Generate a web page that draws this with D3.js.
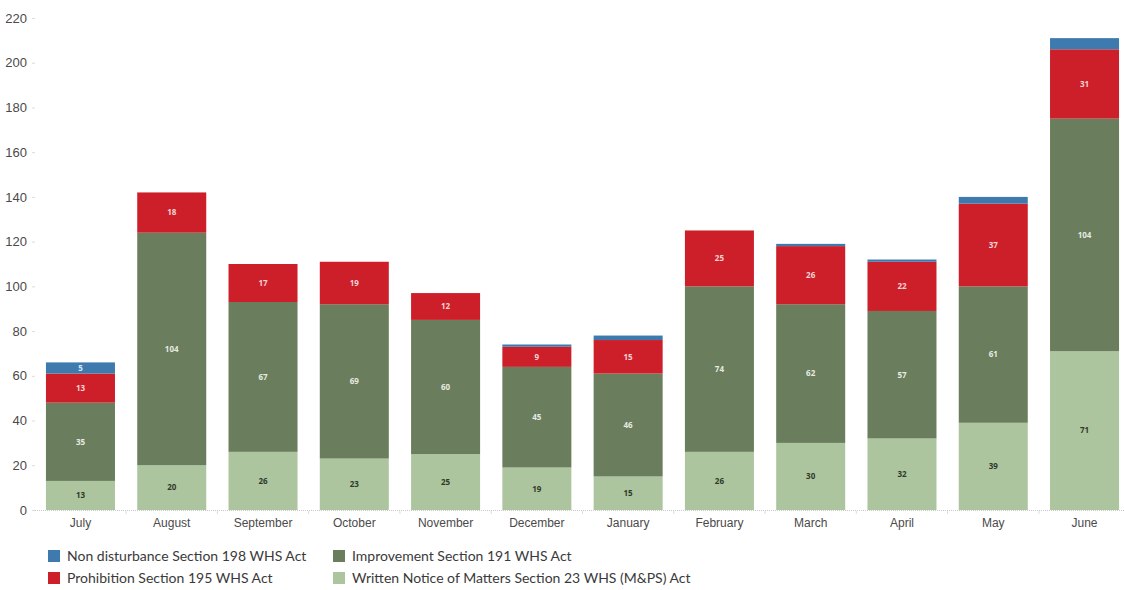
<!DOCTYPE html>
<html>
<head>
<meta charset="utf-8">
<script src="https://cdn.jsdelivr.net/npm/d3@7"></script>
<style>
  html, body { margin: 0; padding: 0; background: #fff; }
  svg { display: block; font-family: "Lato", "Open Sans", sans-serif; }
</style>
</head>
<body>
<svg id="chart" width="1124" height="590"></svg>
<script>
// Monthly notices issued, by notice type
const months = ["July", "August", "September", "October", "November", "December",
                "January", "February", "March", "April", "May", "June"];
const writtenNotice = [13, 20, 26, 23, 25, 19, 15, 26, 30, 32, 39, 71];
const improvement   = [35, 104, 67, 69, 60, 45, 46, 74, 62, 57, 61, 104];
const prohibition   = [13, 18, 17, 19, 12, 9, 15, 25, 26, 22, 37, 31];
const nonDisturb    = [5, 0, 0, 0, 0, 1, 2, 0, 1, 1, 3, 5];
// value labels shown for the non-disturbance segment
const nonDisturbLabelShown = [true, false, false, false, false, false, false, false, false, false, false, false];
const yTicks = [0, 20, 40, 60, 80, 100, 120, 140, 160, 180, 200, 220];

const seriesDefs = [
  { key: "written", name: "Written Notice of Matters Section 23 WHS (M&PS) Act", values: writtenNotice, color: "#acc59e", text: "#2f3a2a" },
  { key: "improvement", name: "Improvement Section 191 WHS Act", values: improvement, color: "#6a7d5c", text: "#e6ebe2" },
  { key: "prohibition", name: "Prohibition Section 195 WHS Act", values: prohibition, color: "#cd1f2a", text: "#f7d3d5" },
  { key: "nondisturb", name: "Non disturbance Section 198 WHS Act", values: nonDisturb, color: "#3e7aae", text: "#dce8f3" }
];

const rows = months.map((m, i) => {
  const r = { month: m };
  seriesDefs.forEach(s => r[s.key] = s.values[i]);
  return r;
});

const stacked = d3.stack().keys(seriesDefs.map(s => s.key))(rows);

const svg = d3.select("#chart");

const x = d3.scaleBand()
  .domain(months)
  .range([35, 1130])
  .paddingInner(0.244)
  .paddingOuter(0.12);

const y = d3.scaleLinear().domain([0, 220]).range([510, 18]);

// y axis
const yAxis = svg.append("g")
  .attr("transform", "translate(35,0)")
  .call(d3.axisLeft(y).tickValues(yTicks).tickSize(3).tickPadding(5));
yAxis.select(".domain").remove();
yAxis.selectAll(".tick line").attr("stroke", "#dcdcdc");
yAxis.selectAll(".tick text").attr("fill", "#4a4a4a").style("font-size", "13px");

// bars
const layers = svg.append("g").selectAll("g")
  .data(stacked)
  .join("g")
  .attr("fill", (d, i) => seriesDefs[i].color);

layers.selectAll("rect")
  .data(d => d)
  .join("rect")
  .attr("x", d => x(d.data.month))
  .attr("width", x.bandwidth())
  .attr("y", d => y(d[1]))
  .attr("height", d => Math.max(0, y(d[0]) - y(d[1])));

// x axis
const xAxis = svg.append("g")
  .attr("transform", "translate(0,510)")
  .call(d3.axisBottom(x).tickSize(0).tickPadding(8));
xAxis.select(".domain").remove();
xAxis.selectAll(".tick text").attr("fill", "#4a4a4a").style("font-size", "12px");
svg.append("line")
  .attr("x1", 35).attr("x2", 1124).attr("y1", 510.5).attr("y2", 510.5)
  .attr("stroke", "#c8c8c8").attr("stroke-width", 1).attr("stroke-dasharray", "1,1");
// band separator ticks
svg.append("g").selectAll("line")
  .data(months.slice(1))
  .join("line")
  .attr("x1", d => x(d) - x.step() * x.paddingInner() / 2)
  .attr("x2", d => x(d) - x.step() * x.paddingInner() / 2)
  .attr("y1", 511).attr("y2", 514)
  .attr("stroke", "#dcdcdc");

// value labels
stacked.forEach((layer, si) => {
  const def = seriesDefs[si];
  svg.append("g").selectAll("text")
    .data(layer.filter((d, i) => d[1] - d[0] > 0 && (def.key !== "nondisturb" || nonDisturbLabelShown[i])))
    .join("text")
    .attr("x", d => x(d.data.month) + x.bandwidth() / 2)
    .attr("y", d => (y(d[0]) + y(d[1])) / 2)
    .attr("dy", "0.35em")
    .attr("text-anchor", "middle")
    .attr("fill", def.text)
    .style("font-size", "8px")
    .style("font-weight", "bold")
    .style("font-family", "'Open Sans', sans-serif")
    .text(d => d[1] - d[0]);
});

// legend
const legendItems = [
  { def: seriesDefs[3], x: 48, y: 550 },
  { def: seriesDefs[2], x: 48, y: 572 },
  { def: seriesDefs[1], x: 333, y: 550 },
  { def: seriesDefs[0], x: 333, y: 572 }
];
const legend = svg.append("g").selectAll("g")
  .data(legendItems)
  .join("g")
  .attr("transform", d => `translate(${d.x},${d.y})`);
legend.append("rect")
  .attr("x", 0).attr("y", 0).attr("width", 12).attr("height", 12)
  .attr("fill", d => d.def.color);
legend.append("text")
  .attr("x", 19).attr("y", 6).attr("dy", "0.35em")
  .attr("fill", "#3a3a3a")
  .style("font-size", "14px")
  .text(d => d.def.name);
</script>
</body>
</html>
